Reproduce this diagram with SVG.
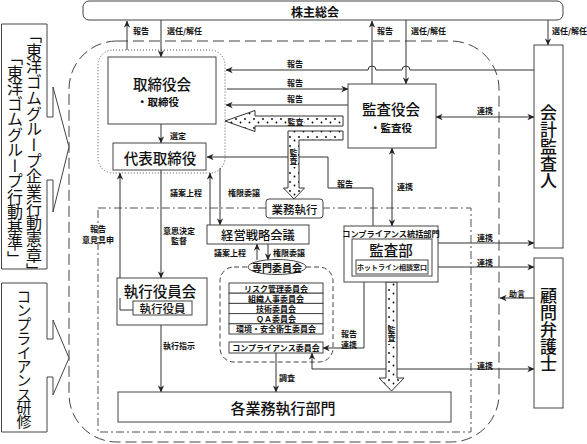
<svg xmlns="http://www.w3.org/2000/svg" width="587" height="444" viewBox="0 0 587 444">
<style>
.b{fill:#fff;stroke:#444;stroke-width:1}
.l{fill:none;stroke:#333;stroke-width:1}
.t{font-family:"Noto Sans CJK JP","Noto Sans",sans-serif;fill:#111;dominant-baseline:central}
.c{text-anchor:middle}
.s{font-size:8px;font-weight:bold}
.v{writing-mode:vertical-rl}
.thick{fill:url(#dots);stroke:#333;stroke-width:1}
</style>
<defs>
<marker id="a" viewBox="0 0 10 10" refX="9.5" refY="5" markerWidth="7" markerHeight="7" markerUnits="userSpaceOnUse" orient="auto-start-reverse">
<path d="M0,0.5 L10,5 L0,9.5 L3,5 z" fill="#222"/>
</marker>
<pattern id="dots" width="9" height="9" patternUnits="userSpaceOnUse">
<rect width="9" height="9" fill="#fff"/>
<circle cx="2" cy="2" r="0.9" fill="#000"/>
<circle cx="6.5" cy="5.5" r="0.9" fill="#000"/>
</pattern>
</defs>

<!-- regions -->
<g id="regions">
<rect x="69" y="41" width="430" height="401" rx="48" fill="none" stroke="#444" stroke-dasharray="11,5"/>
<rect x="98" y="208" width="373" height="224" fill="none" stroke="#555" stroke-dasharray="8,3,2,3"/>
<rect x="98" y="50" width="127" height="123" rx="15" fill="none" stroke="#555" stroke-dasharray="1,2"/>
<rect x="220" y="267" width="113" height="95" rx="14" fill="none" stroke="#444" stroke-dasharray="5,3"/>
</g>

<!-- connectors -->
<g id="connectors">
<path class="l" d="M127,50 V21" marker-end="url(#a)"/>
<path class="l" d="M161,20 V57" marker-end="url(#a)"/>
<path class="l" d="M372,84 V21" marker-end="url(#a)"/>
<path class="l" d="M406,20 V84" marker-end="url(#a)"/>
<path class="l" d="M548,20 V45" marker-end="url(#a)"/>
<path class="l" d="M534,70 H410 A4,4 0 0 0 402,70 H376 A4,4 0 0 0 368,70 H226" marker-end="url(#a)"/>
<path class="l" d="M227,89 H348" marker-end="url(#a)"/>
<path class="l" d="M348,105 H226" marker-end="url(#a)"/>
<path class="l" d="M436,117 H534" marker-start="url(#a)" marker-end="url(#a)"/>
<path class="l" d="M161,124 V143" marker-end="url(#a)"/>
<path class="l" d="M373,226 V188 H328 V157 H207" marker-end="url(#a)"/>
<path class="l" d="M392,148 V226" marker-start="url(#a)" marker-end="url(#a)"/>
<path class="l" d="M220,168 V225" marker-end="url(#a)"/>
<path class="l" d="M210,225 V173" marker-end="url(#a)"/>
<path class="l" d="M133,310 H120 V173" marker-end="url(#a)"/>
<path class="l" d="M161,170 V278" marker-end="url(#a)"/>
<path class="l" d="M161,315 V392" marker-end="url(#a)"/>
<path class="l" d="M257,260 V244" marker-end="url(#a)"/>
<path class="l" d="M268,244 V260" marker-end="url(#a)"/>
<path class="l" d="M364,282 V348 H323" marker-end="url(#a)"/>
<path class="l" d="M276,353 V392" marker-end="url(#a)"/>
<path class="l" d="M312,353 V369 H534" marker-start="url(#a)" marker-end="url(#a)"/>
<path class="l" d="M432,243 H534" marker-start="url(#a)" marker-end="url(#a)"/>
<path class="l" d="M432,267 H534" marker-start="url(#a)" marker-end="url(#a)"/>
<path class="l" d="M534,298 H500" marker-end="url(#a)"/>
</g>

<!-- thick audit arrows -->
<g id="audit-arrows">
<path class="thick" d="M343,116 H255 V110.5 L225,121 L255,131.5 V126 H343 Z"/>
<rect x="287" y="117" width="17" height="8" fill="#fff"/>
<text class="t s c" x="295.5" y="121">監査</text>
<path class="thick" d="M343,131 H288 V188 H283.5 L294,199 L304.5,188 H299 V140 H343 Z"/>
<rect x="289" y="149" width="9" height="18" fill="#fff"/>
<text class="t s v" x="293.5" y="149">監査</text>
<path class="thick" d="M386,282 V378 H379 L391.5,391 L404,378 H397 V282 Z"/>
<rect x="387" y="326" width="9" height="18" fill="#fff"/>
<text class="t s v" x="391.5" y="326">監査</text>
</g>

<!-- nodes -->
<g id="shareholders">
<rect class="b" x="83" y="1" width="480" height="19" rx="6"/>
<text class="t" x="291" y="11" font-size="12" font-weight="bold">株主総会</text>
</g>

<g id="code-box">
<path class="b" d="M1.5,24 H47 V117 H53 V87 L69,147 L53,212 V180 H47 V269 H1.5 Z"/>
<text class="t v" x="34" y="27" font-size="16" letter-spacing="-0.3">「東洋ゴムグループ企業行動憲章」</text>
<text class="t v" x="15" y="49" font-size="16" letter-spacing="-0.5">「東洋ゴムグループ行動基準」</text>
</g>

<g id="training-box">
<path class="b" d="M1.5,283 H47 V339 H53 V320 L69,358 L53,395 V377 H47 V432 H1.5 Z"/>
<text class="t v" x="24" y="289" font-size="15" letter-spacing="-1.1">コンプライアンス研修</text>
</g>

<g id="board">
<rect class="b" x="108" y="57" width="108" height="67"/>
<text class="t c" x="162" y="83" font-size="14.5" font-weight="500">取締役会</text>
<text class="t c" x="158" y="101" font-size="10.5" font-weight="bold">・取締役</text>
</g>

<g id="representative">
<rect class="b" x="113" y="143" width="93" height="27"/>
<text class="t c" x="160" y="157" font-size="14.5" font-weight="500">代表取締役</text>
</g>

<g id="auditors">
<rect class="b" x="348" y="84" width="88" height="64"/>
<text class="t c" x="391" y="108" font-size="14.5" font-weight="500">監査役会</text>
<text class="t c" x="391" y="127" font-size="10.5" font-weight="bold">・監査役</text>
</g>

<g id="accounting-auditor">
<rect class="b" x="534" y="45" width="29" height="203"/>
<text class="t v" x="548.5" y="104" font-size="17" font-weight="500">会計監査人</text>
</g>

<g id="lawyer">
<rect class="b" x="534" y="258" width="29" height="150"/>
<text class="t v" x="548.5" y="287" font-size="17" font-weight="500">顧問弁護士</text>
</g>

<g id="business-exec">
<rect class="b" x="266" y="199" width="57" height="19" rx="3"/>
<text class="t c" x="294.5" y="208.5" font-size="11.5" font-weight="500">業務執行</text>
</g>

<g id="strategy">
<rect class="b" x="207" y="225" width="102" height="19"/>
<text class="t c" x="258" y="234.5" font-size="12.3" font-weight="500">経営戦略会議</text>
</g>

<g id="committees">
<ellipse class="b" cx="277" cy="267" rx="29" ry="7.5" stroke="#333"/>
<text class="t c" x="277" y="267" font-size="10" font-weight="bold">専門委員会</text>
<rect class="b" x="229" y="283" width="94" height="10.2"/>
<rect class="b" x="229" y="293.2" width="94" height="10.2"/>
<rect class="b" x="229" y="303.4" width="94" height="10.2"/>
<rect class="b" x="229" y="313.6" width="94" height="10.2"/>
<rect class="b" x="229" y="323.8" width="94" height="10.2"/>
<text class="t s c" x="276" y="288.1">リスク管理委員会</text>
<text class="t s c" x="276" y="298.3">組織人事委員会</text>
<text class="t s c" x="276" y="308.5">技術委員会</text>
<text class="t s c" x="276" y="318.7">ＱＡ委員会</text>
<text class="t s c" x="276" y="328.9">環境・安全衛生委員会</text>
</g>

<g id="compliance-committee">
<rect class="b" x="229" y="342" width="94" height="11"/>
<text class="t s c" x="276" y="347.5">コンプライアンス委員会</text>
</g>

<g id="officers">
<rect class="b" x="117" y="278" width="90" height="47"/>
<text class="t c" x="160" y="290" font-size="14.5" font-weight="500">執行役員会</text>
<rect class="b" x="133" y="301" width="59" height="14"/>
<text class="t c" x="162.5" y="308" font-size="11.5" font-weight="500">執行役員</text>
<path class="l" d="M120,298 V310 H133"/>
</g>

<g id="departments">
<rect class="b" x="118" y="392" width="333" height="30"/>
<text class="t c" x="283" y="407" font-size="15" font-weight="500">各業務執行部門</text>
</g>

<g id="audit-dept">
<rect class="b" x="344" y="226" width="94" height="56"/>
<text class="t c" x="391" y="232.5" font-size="8.2" font-weight="bold">コンプライアンス統括部門</text>
<rect class="b" x="352" y="239" width="80" height="37"/>
<text class="t c" x="391" y="249.5" font-size="14.5" font-weight="500">監査部</text>
<rect class="b" x="356" y="260" width="72" height="14"/>
<text class="t c" x="392" y="267" font-size="7" font-weight="bold">ホットライン相談窓口</text>
</g>

<!-- labels -->
<g id="labels" class="t s">
<text x="133" y="30">報告</text>
<text x="167" y="30">選任/解任</text>
<text x="377" y="30">報告</text>
<text x="411" y="30">選任/解任</text>
<text x="552" y="30">選任/解任</text>
<text class="c" x="295" y="63">報告</text>
<text class="c" x="295" y="82">報告</text>
<text class="c" x="295" y="98">報告</text>
<text class="c" x="485" y="110">連携</text>
<text x="170" y="135">選定</text>
<text x="337" y="183">報告</text>
<text x="397" y="186">連携</text>
<text x="170" y="192">議案上程</text>
<text x="228" y="192">権限委譲</text>
<text class="c" x="98" y="228">報告</text>
<text class="c" x="98" y="239">意見具申</text>
<text class="c" x="179" y="230">意思決定</text>
<text class="c" x="179" y="240">監督</text>
<text class="c" x="230" y="252">議案上程</text>
<text class="c" x="289" y="252">権限委譲</text>
<text class="c" x="485" y="237">連携</text>
<text class="c" x="485" y="262">連携</text>
<text class="c" x="517" y="293">助言</text>
<text class="c" x="349" y="333">報告</text>
<text class="c" x="349" y="344">連携</text>
<text x="163" y="345">執行指示</text>
<text x="279" y="377">調査</text>
<text class="c" x="485" y="365">連携</text>
</g>
</svg>
